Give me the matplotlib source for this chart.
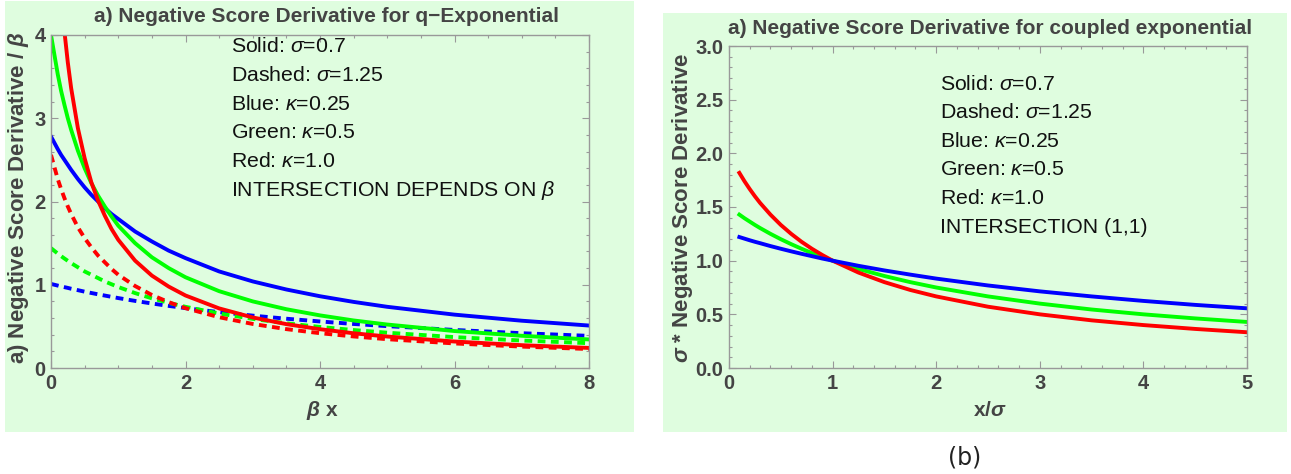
import matplotlib
matplotlib.use('Agg')
import matplotlib.pyplot as plt
from matplotlib.patches import Rectangle
from matplotlib.ticker import MultipleLocator, FormatStrFormatter

plt.rcParams['font.family'] = ['Liberation Sans', 'DejaVu Sans']
plt.rcParams['mathtext.fontset'] = 'custom'
plt.rcParams['mathtext.rm'] = 'Liberation Sans'
plt.rcParams['mathtext.it'] = 'Liberation Sans:italic'
plt.rcParams['mathtext.bf'] = 'Liberation Sans:bold'
plt.rcParams['mathtext.bfit'] = 'Liberation Sans:italic:bold'

# ---------------- data: left panel (q-Exponential) ----------------
bx = [0, 0.1, 0.15, 0.2, 0.25, 0.3, 0.4, 0.5, 0.6, 0.7, 0.8, 0.9, 1.0, 1.25, 1.5, 1.75,
      2, 2.5, 3, 3.5, 4, 4.5, 5, 6, 7, 8]
blue_solid = [2.78, 2.63, 2.56, 2.50, 2.44, 2.38, 2.27, 2.17, 2.08, 2.00, 1.92, 1.85, 1.79,
              1.64, 1.52, 1.41, 1.32, 1.16, 1.04, 0.943, 0.862, 0.794, 0.735,
              0.641, 0.568, 0.510]
green_solid = [4.00, 3.53, 3.33, 3.16, 3.00, 2.86, 2.61, 2.40, 2.22, 2.07, 1.94, 1.82, 1.71,
               1.50, 1.33, 1.20, 1.09, 0.923, 0.800, 0.706, 0.632, 0.571, 0.522,
               0.444, 0.387, 0.343]
red_solid = [6.78, 5.06, 4.49, 4.04, 3.67, 3.36, 2.88, 2.52, 2.23, 2.01, 1.83, 1.67, 1.54,
             1.29, 1.11, 0.978, 0.871, 0.716, 0.607, 0.527, 0.466, 0.417, 0.378,
             0.318, 0.274, 0.241]
blue_dashed = [1.01, 0.990, 0.980, 0.971, 0.962, 0.952, 0.935, 0.917, 0.901, 0.885, 0.870,
               0.855, 0.840, 0.806, 0.775, 0.746, 0.719, 0.671, 0.629, 0.592,
               0.559, 0.529, 0.503, 0.457, 0.418, 0.386]
green_dashed = [1.44, 1.375, 1.344, 1.315, 1.287, 1.26, 1.21, 1.16, 1.12, 1.08, 1.04, 1.006,
                0.973, 0.900, 0.837, 0.783, 0.735, 0.655, 0.590, 0.537, 0.493,
                0.456, 0.424, 0.371, 0.330, 0.298]
red_dashed = [2.56, 2.27, 2.15, 2.04, 1.94, 1.85, 1.69, 1.56, 1.45, 1.35, 1.27, 1.19, 1.12,
              0.985, 0.877, 0.791, 0.719, 0.610, 0.529, 0.467, 0.418, 0.379,
              0.346, 0.295, 0.257, 0.228]

# ---------------- data: right panel (coupled exponential) ----------------
xs = [0.1, 0.15, 0.2, 0.25, 0.3, 0.4, 0.5, 0.6, 0.7, 0.8, 0.9, 1.0, 1.25, 1.5, 1.75, 2,
      2.5, 3, 3.5, 4, 4.5, 5]
blue_c = [1.220, 1.205, 1.190, 1.176, 1.163, 1.136, 1.111, 1.087, 1.064, 1.042, 1.020, 1.000,
          0.952, 0.909, 0.870, 0.833, 0.769, 0.714, 0.667, 0.625, 0.588, 0.556]
green_c = [1.429, 1.395, 1.364, 1.333, 1.304, 1.250, 1.200, 1.154, 1.111, 1.071, 1.034, 1.000,
           0.923, 0.857, 0.800, 0.750, 0.667, 0.600, 0.545, 0.500, 0.462, 0.429]
red_c = [1.818, 1.739, 1.667, 1.600, 1.538, 1.429, 1.333, 1.250, 1.176, 1.111, 1.053, 1.000,
         0.889, 0.800, 0.727, 0.667, 0.571, 0.500, 0.444, 0.400, 0.364, 0.333]

left_notes = [r'Solid: $\sigma$=0.7', r'Dashed: $\sigma$=1.25', r'Blue: $\kappa$=0.25',
              r'Green: $\kappa$=0.5', r'Red: $\kappa$=1.0', r'INTERSECTION DEPENDS ON $\beta$']
right_notes = [r'Solid: $\sigma$=0.7', r'Dashed: $\sigma$=1.25', r'Blue: $\kappa$=0.25',
               r'Green: $\kappa$=0.5', r'Red: $\kappa$=1.0', 'INTERSECTION (1,1)']

W, H = 1291, 474
BG = '#dffddf'
BLUE, GREEN, RED = '#0000ff', '#00ff00', '#ff0000'
LABC = '#444444'
FRAME = '#999999'
LW = 2.8
DASH = (0, (2.0, 1.4))

fig = plt.figure(figsize=(W / 100, H / 100), dpi=100)

def px_rect(x0, y0, x1, y1):
    return (x0 / W, 1 - y1 / H, (x1 - x0) / W, (y1 - y0) / H)

for (x0, y0, x1, y1) in [(5, 1, 634, 432), (663, 13, 1287, 432)]:
    l, b, w, h = px_rect(x0, y0, x1, y1)
    fig.patches.append(Rectangle((l, b), w, h, transform=fig.transFigure,
                                 facecolor=BG, edgecolor='none', zorder=-5))

ax1 = fig.add_axes(px_rect(51, 35, 589, 368))
ax2 = fig.add_axes(px_rect(729, 46, 1247, 368))
ax1.set_zorder(2)
ax2.set_zorder(2)

def style(ax):
    ax.set_facecolor('none')
    for s in ax.spines.values():
        s.set_color(FRAME)
        s.set_linewidth(1.0)
    ax.tick_params(which='both', direction='in', top=True, right=True,
                   color=FRAME, width=0.8)
    ax.tick_params(which='major', length=5, labelsize=14.5, labelcolor=LABC, pad=4)
    ax.tick_params(which='minor', length=2.5)
    for lab in ax.get_xticklabels() + ax.get_yticklabels():
        lab.set_fontweight('bold')

# left
ax1.plot(bx, blue_dashed, color=BLUE, lw=LW, ls=DASH)
ax1.plot(bx, green_dashed, color=GREEN, lw=LW, ls=DASH)
ax1.plot(bx, red_dashed, color=RED, lw=LW, ls=DASH)
ax1.plot(bx, blue_solid, color=BLUE, lw=LW)
ax1.plot(bx, green_solid, color=GREEN, lw=LW)
ax1.plot(bx, red_solid, color=RED, lw=LW)
ax1.set_xlim(0, 8)
ax1.set_ylim(0, 4)
ax1.xaxis.set_major_locator(MultipleLocator(2))
ax1.xaxis.set_minor_locator(MultipleLocator(0.5))
ax1.yaxis.set_major_locator(MultipleLocator(1))
ax1.yaxis.set_minor_locator(MultipleLocator(0.2))
style(ax1)

# right
ax2.plot(xs, green_c, color=GREEN, lw=LW)
ax2.plot(xs, red_c, color=RED, lw=LW)
ax2.plot(xs, blue_c, color=BLUE, lw=LW)
ax2.set_xlim(0, 5)
ax2.set_ylim(0, 3)
ax2.xaxis.set_major_locator(MultipleLocator(1))
ax2.xaxis.set_minor_locator(MultipleLocator(0.2))
ax2.yaxis.set_major_locator(MultipleLocator(0.5))
ax2.yaxis.set_minor_locator(MultipleLocator(0.1))
ax2.yaxis.set_major_formatter(FormatStrFormatter('%.1f'))
style(ax2)

def ftext(x, y, s, **kw):
    fig.text(x / W, 1 - y / H, s, **kw)

ftext(326, 17, 'a) Negative Score Derivative for q\u2212Exponential', ha='center', va='center',
      fontsize=15, fontweight='bold', color=LABC)
ftext(990, 28, 'a) Negative Score Derivative for coupled exponential', ha='center', va='center',
      fontsize=15, fontweight='bold', color=LABC)

ftext(322, 410, r'$\mathbfit{\beta}$ x', ha='center', va='center', fontsize=15,
      fontweight='bold', color=LABC)
ftext(990, 410, r'x/$\mathbfit{\sigma}$', ha='center', va='center', fontsize=15,
      fontweight='bold', color=LABC)
ftext(19, 198, r'a) Negative Score Derivative / $\mathbfit{\beta}$', ha='center', va='center',
      rotation=90, fontsize=16, fontweight='bold', color=LABC)
ftext(683, 208, r'$\mathbfit{\sigma}$ * Negative Score Derivative', ha='center', va='center',
      rotation=90, fontsize=16, fontweight='bold', color=LABC)

for i, s in enumerate(left_notes):
    ftext(231, 47 + i * 28.6, s, ha='left', va='center', fontsize=15.3, color='#111111')
for i, s in enumerate(right_notes):
    ftext(940, 84 + i * 28.6, s, ha='left', va='center', fontsize=15.3, color='#111111')

ftext(965, 457, '(b)', ha='center', va='center', fontsize=17, color='#222222',
      family=['DejaVu Sans'])

fig.savefig('out.png', dpi=100)
